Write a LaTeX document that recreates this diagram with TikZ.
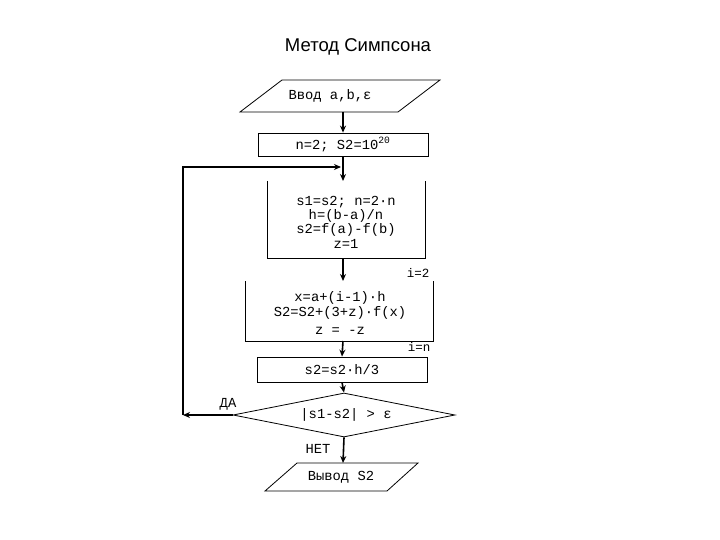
\documentclass[tikz,border=0pt]{standalone}
\usepackage{fontspec}
\newfontfamily\cour{Liberation Mono}
\newfontfamily\arialf{Liberation Sans}
\usetikzlibrary{shapes.geometric,arrows.meta}
\tikzset{
  txt/.style={font=\cour\fontsize{13.8}{13.8}\selectfont, inner sep=0pt, align=center},
  shapeline/.style={draw=black, line width=0.8pt},
  conn/.style={draw=black, line width=1.6pt, -{Stealth[length=7pt,width=6pt]}},
  procbox/.style={shapeline, rectangle, minimum width=170pt, inner sep=0pt},
}
\begin{document}
\begin{tikzpicture}[x=1pt,y=-1pt]
\useasboundingbox (0,0) rectangle (720,540);
\fill[white] (0,0) rectangle (720,540);
% title
\node[font=\arialf\fontsize{18.5}{18.5}\selectfont, inner sep=0pt] (title) at (358,47) {Метод Симпсона};
% input parallelogram
\draw[shapeline] (282,80) -- (440,80) -- (398,112) -- (240,112) -- cycle;
\node[txt] (in) at (330,96) {Ввод a,b,ε};
\coordinate (inb) at (343,112);
% init box
\node[procbox, minimum height=23pt, txt, shapeline] (init) at (343,144.5) {n=2; S2=10\textsuperscript{20}};
% block 2 (open top)
\draw[shapeline] (267,181) -- (267,258) -- (425,258) -- (425,181);
\node[txt] (b2) at (346,222) {s1=s2; n=2·n\\[0.5pt]h=(b-a)/n\\[0.5pt]s2=f(a)-f(b)\\[0.5pt]z=1};
\coordinate (b2t) at (343,181);
\coordinate (b2b) at (343,258);
% loop block
\draw[shapeline] (245,281) -- (245,341) -- (433,341) -- (433,281);
\node[txt] (loop) at (340,313) {x=a+(i-1)·h\\[1pt]S2=S2+(3+z)·f(x)\\[4pt]z = -z};
\coordinate (lpt) at (343,281);
\coordinate (lpb) at (343,341);
\node[txt, font=\cour\fontsize{12.5}{12.5}\selectfont] (i1) at (418,273) {i=2};
\node[txt, font=\cour\fontsize{12.5}{12.5}\selectfont] (i2) at (419,347) {i=n};
% calc box
\node[procbox, minimum height=25pt, txt, shapeline] (calc) at (342,369.5) {s2=s2·h/3};
% decision
\node[diamond, shapeline, minimum width=222pt, minimum height=44pt, inner sep=0pt] (dia) at (344,415) {};
\node[txt] (diat) at (346,415) {|s1-s2| > ε};
\node[txt] (yes) at (228,404) {ДА};
\node[txt] (no) at (318,449) {НЕТ};
% output
\draw[shapeline] (297,463) -- (418,463) -- (387,491) -- (265,491) -- cycle;
\node[txt] (out) at (341,477) {Вывод S2};
\coordinate (outt) at (343,463);
% feedback
\coordinate (fbl) at (183,415);
\coordinate (fbj) at (341,167);
% connectors
\draw[conn] (inb) -- (init.north);
\draw[conn] (init.south) -- (b2t);
\draw[conn] (dia.west) -- (fbl);
\draw[conn] (fbl) |- (fbj);
\draw[conn] (b2b) -- (lpt);
\draw[conn] (lpb) -- (calc.north);
\draw[conn] (calc.south) -- (dia.north);
\draw[conn] (dia.south) -- (outt);
\end{tikzpicture}
\end{document}
